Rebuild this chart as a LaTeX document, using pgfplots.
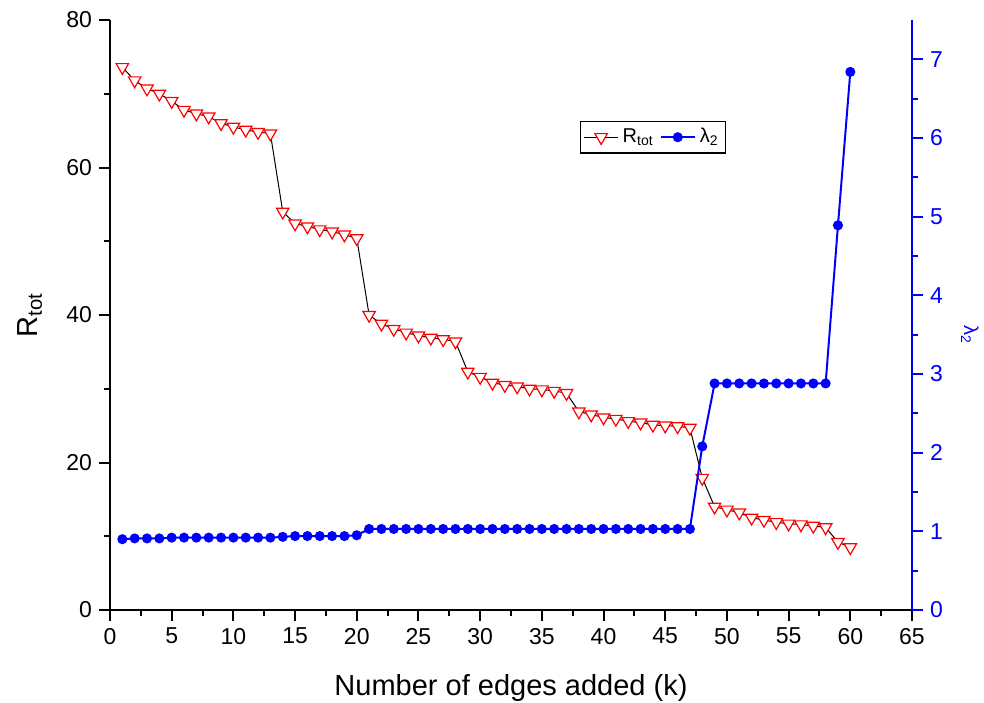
\documentclass[border=0pt]{standalone}
\usepackage{fontspec}
\setmainfont{Liberation Sans}
\usepackage{pgfplots}
\pgfplotsset{compat=1.18}
\usepackage{pgfplotstable}
\definecolor{myblue}{RGB}{0,0,255}
\definecolor{myred}{RGB}{255,0,0}
\pgfplotstableread{
k R
1 73.6
2 71.8
3 70.7
4 70.0
5 69.0
6 67.8
7 67.3
8 66.9
9 66.0
10 65.5
11 65.1
12 64.8
13 64.6
14 54.0
15 52.4
16 52.0
17 51.6
18 51.3
19 50.9
20 50.4
21 40.0
22 38.8
23 38.1
24 37.6
25 37.2
26 36.9
27 36.7
28 36.4
29 32.3
30 31.6
31 30.8
32 30.5
33 30.3
34 30.0
35 29.9
36 29.7
37 29.4
38 26.9
39 26.5
40 26.1
41 25.9
42 25.6
43 25.4
44 25.1
45 25.0
46 24.9
47 24.7
48 17.9
49 14.0
50 13.6
51 13.2
52 12.5
53 12.2
54 11.9
55 11.7
56 11.6
57 11.4
58 11.2
59 9.2
60 8.5
}\Rtot
\pgfplotstableread{
k L
1 0.90
2 0.91
3 0.91
4 0.91
5 0.92
6 0.92
7 0.92
8 0.92
9 0.92
10 0.92
11 0.92
12 0.92
13 0.92
14 0.93
15 0.94
16 0.94
17 0.94
18 0.94
19 0.94
20 0.95
21 1.03
22 1.03
23 1.03
24 1.03
25 1.03
26 1.03
27 1.03
28 1.03
29 1.03
30 1.03
31 1.03
32 1.03
33 1.03
34 1.03
35 1.03
36 1.03
37 1.03
38 1.03
39 1.03
40 1.03
41 1.03
42 1.03
43 1.03
44 1.03
45 1.03
46 1.03
47 1.03
48 2.08
49 2.88
50 2.88
51 2.88
52 2.88
53 2.88
54 2.88
55 2.88
56 2.88
57 2.88
58 2.88
59 4.89
60 6.84
}\Lam
\begin{document}
\begin{tikzpicture}
\useasboundingbox (-55pt,-46pt) rectangle (437pt,305pt);
\pgfplotsset{
  every axis/.append style={
    scale only axis, width=401pt, height=295pt,
    xmin=0, xmax=65,
    /pgf/number format/assume math mode=true,
    tick label style={font=\fontsize{11.5}{13}\selectfont},
    tick align=outside,
    major tick length=5.5pt, minor tick length=3pt,
    every tick/.style={line width=1pt},
    axis line style={line width=1pt},
  }
}
\begin{axis}[
  axis x line*=bottom, axis y line*=left,
  ymin=0, ymax=80,
  xtick={0,5,...,65}, minor x tick num=1,
  ytick={0,20,40,60,80}, minor y tick num=1,
  xlabel={Number of edges added (k)},
  xlabel style={font=\fontsize{14.5}{16}\selectfont, at={(axis description cs:0.5,-0.132)}, anchor=center},
  ylabel={R\textsubscript{tot}},
  ylabel style={font=\fontsize{14.5}{16}\selectfont, at={(axis description cs:-0.1,0.5)}, anchor=center},
  every tick/.style={black, line width=1pt},
]
\addplot[black, line width=0.5pt, mark=triangle*, mark size=3.6pt,
  mark options={rotate=180, draw=myred, fill=white, line width=0.6pt}]
  table[x=k, y=R] {\Rtot};
\end{axis}
\begin{axis}[
  axis x line=none, axis y line*=right,
  ymin=0, ymax=7.5,
  ytick={0,1,...,7}, minor y tick num=1,
  y axis line style={myblue, line width=1pt},
  every tick/.style={myblue, line width=1pt},
  y tick label style={myblue},
  ylabel={λ\textsubscript{2}},
  ylabel style={myblue, font=\fontsize{10}{11}\selectfont, rotate=180,
    at={(axis description cs:1.072,0.466)}, anchor=center},
  legend style={at={(rel axis cs:0.586,0.829)}, anchor=north west,
    draw=black, line width=0.6pt, font=\fontsize{10}{11}\selectfont,
    inner sep=1.5pt, /tikz/every even column/.append style={column sep=1pt}},
  legend columns=2,
]
\addlegendimage{black, line width=0.5pt, mark=triangle*, mark size=3.6pt,
  mark options={rotate=180, draw=myred, fill=white, line width=0.6pt}}
\addlegendentry{R\textsubscript{tot}}
\addplot[myblue, line width=1pt, mark=*, mark size=2pt,
  mark options={fill=myblue, draw=myblue}]
  table[x=k, y=L] {\Lam};
\addlegendentry{λ\textsubscript{2}}
\end{axis}
\end{tikzpicture}
\end{document}
